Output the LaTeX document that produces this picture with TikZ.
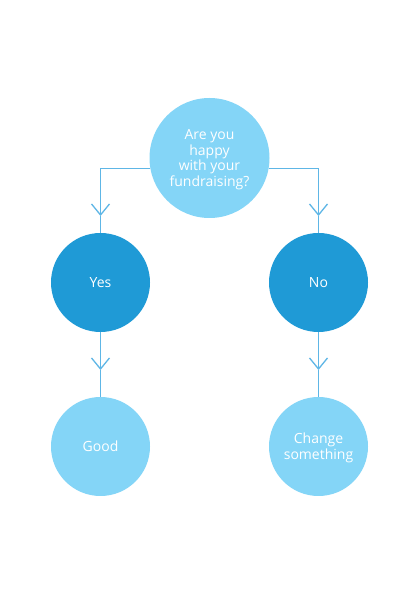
\documentclass[tikz,border=0pt]{standalone}
\usepackage{fontspec}
\setmainfont{Open Sans}
\usetikzlibrary{arrows.meta}
\definecolor{lightc}{HTML}{84D5F7}
\definecolor{darkc}{HTML}{1F9AD6}
\definecolor{linec}{HTML}{5EB6E6}
\begin{document}
\begin{tikzpicture}[x=1pt,y=1pt,
  bubble/.style={circle,inner sep=0pt,text=white,align=center,text depth=0pt,
    font=\fontsize{14}{15.8}\selectfont},
  big/.style={bubble,fill=lightc,minimum size=120pt},
  answer/.style={bubble,fill=darkc,minimum size=99pt},
  result/.style={bubble,fill=lightc,minimum size=99pt},
  conn/.style={draw=linec,line width=1.3pt},
  tip/.style={conn,-{Straight Barb[length=11pt,width=18pt,line width=1.3pt]}}]
\useasboundingbox[fill=white] (0,0) rectangle (419,595);
\node[big] (q) at (209.5,437) {Are you\\happy\\with your\\fundraising?};
\node[answer] (yes) at (100.5,312.5) {Yes};
\node[answer] (no) at (318.5,312.5) {No};
\node[result] (good) at (100.5,148.5) {Good};
\node[result] (change) at (318.5,148.5) {Change\\something};
\coordinate (t1) at (100.5,379);
\coordinate (t2) at (318.5,379);
\coordinate (t3) at (100.5,225);
\coordinate (t4) at (318.5,225);
\draw[tip] (q.190) -| (t1);
\draw[conn] (t1) -- (yes.north);
\draw[tip] (q.350) -| (t2);
\draw[conn] (t2) -- (no.north);
\draw[tip] (yes.south) -- (t3);
\draw[conn] (t3) -- (good.north);
\draw[tip] (no.south) -- (t4);
\draw[conn] (t4) -- (change.north);
\end{tikzpicture}
\end{document}
